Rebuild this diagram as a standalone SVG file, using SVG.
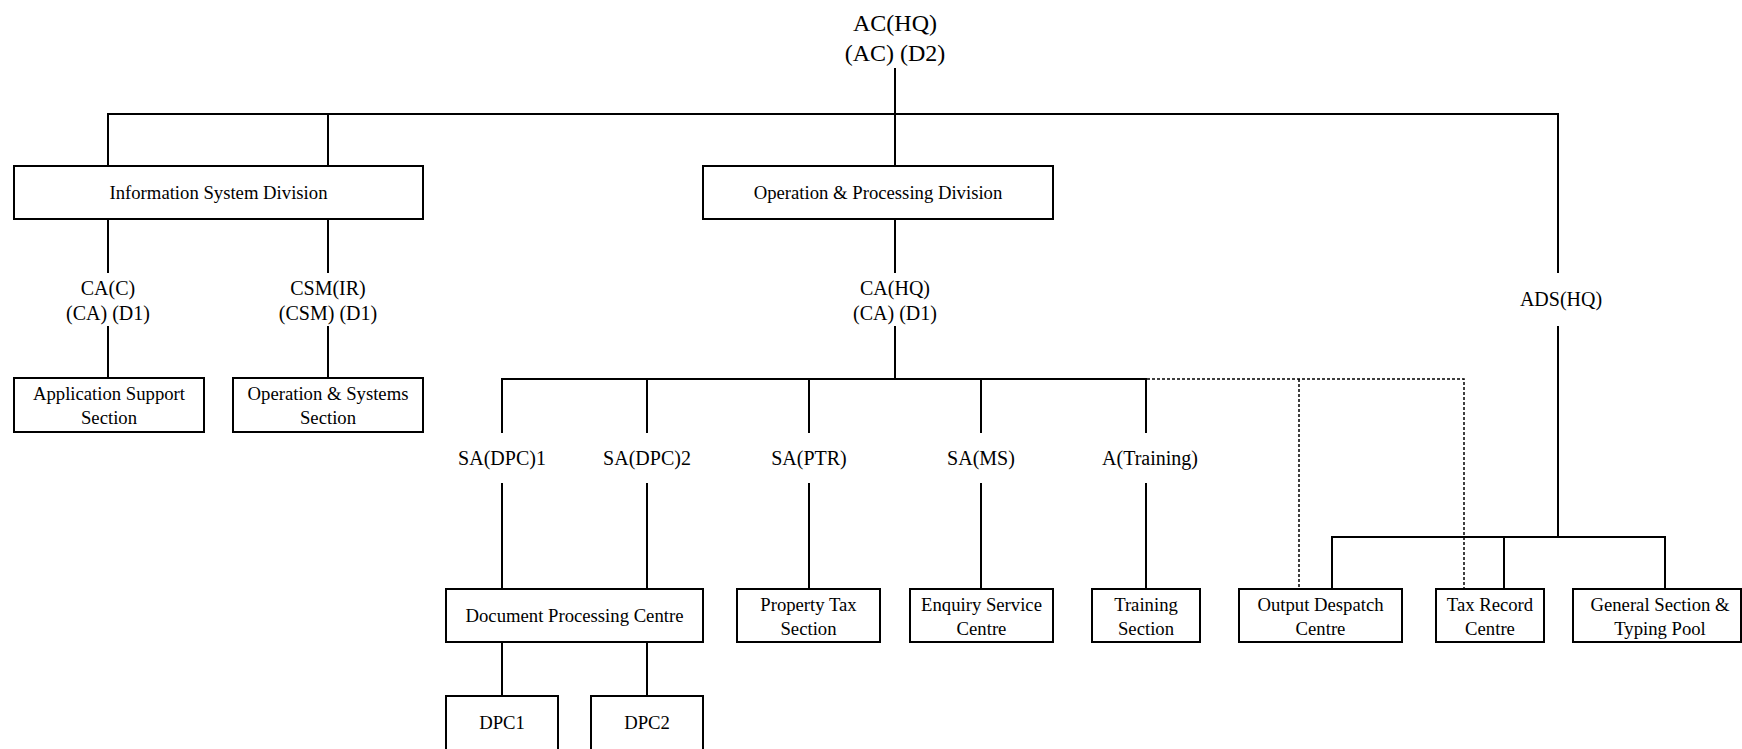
<svg xmlns="http://www.w3.org/2000/svg" width="1742" height="749" viewBox="0 0 1742 749">
<style>
  .box { fill: #fff; stroke: #000; stroke-width: 2; }
  .ln { stroke: #000; stroke-width: 2; fill: none; stroke-linecap: square; }
  .dot { stroke: #000; stroke-width: 1.5; fill: none; stroke-dasharray: 3 2; }
  text { font-family: "Liberation Serif", "Times New Roman", serif; fill: #000; text-anchor: middle; }
  .t { font-size: 24px; }
  .l { font-size: 20px; }
  .b { font-size: 18.7px; }
</style>
<rect width="1742" height="749" fill="#fff"/>
<g id="connectors">
  <!-- root -->
  <line class="ln" x1="895" y1="69" x2="895" y2="166"/>
  <line class="ln" x1="108" y1="114" x2="1558" y2="114"/>
  <line class="ln" x1="108" y1="114" x2="108" y2="166"/>
  <line class="ln" x1="328" y1="114" x2="328" y2="166"/>
  <line class="ln" x1="1558" y1="114" x2="1558" y2="272"/>
  <line class="ln" x1="1558" y1="327" x2="1558" y2="537"/>
  <!-- ISD -->
  <line class="ln" x1="108" y1="219" x2="108" y2="272"/>
  <line class="ln" x1="108" y1="327" x2="108" y2="378"/>
  <line class="ln" x1="328" y1="219" x2="328" y2="272"/>
  <line class="ln" x1="328" y1="327" x2="328" y2="378"/>
  <!-- OPD -->
  <line class="ln" x1="895" y1="219" x2="895" y2="272"/>
  <line class="ln" x1="895" y1="327" x2="895" y2="379"/>
  <line class="ln" x1="502" y1="379" x2="1146" y2="379"/>
  <line class="ln" x1="502" y1="379" x2="502" y2="432"/>
  <line class="ln" x1="647" y1="379" x2="647" y2="432"/>
  <line class="ln" x1="809" y1="379" x2="809" y2="432"/>
  <line class="ln" x1="981" y1="379" x2="981" y2="432"/>
  <line class="ln" x1="1146" y1="379" x2="1146" y2="432"/>
  <line class="ln" x1="502" y1="484" x2="502" y2="589"/>
  <line class="ln" x1="647" y1="484" x2="647" y2="589"/>
  <line class="ln" x1="809" y1="484" x2="809" y2="589"/>
  <line class="ln" x1="981" y1="484" x2="981" y2="589"/>
  <line class="ln" x1="1146" y1="484" x2="1146" y2="589"/>
  <line class="ln" x1="502" y1="642" x2="502" y2="696"/>
  <line class="ln" x1="647" y1="642" x2="647" y2="696"/>
  <!-- dotted -->
  <polyline class="dot" points="1147,379 1464,379 1464,589"/>
  <line class="dot" x1="1299" y1="379" x2="1299" y2="589"/>
  <!-- ADS -->
  <line class="ln" x1="1332" y1="537" x2="1665" y2="537"/>
  <line class="ln" x1="1332" y1="537" x2="1332" y2="589"/>
  <line class="ln" x1="1504" y1="537" x2="1504" y2="589"/>
  <line class="ln" x1="1665" y1="537" x2="1665" y2="589"/>
</g>
<g id="ac-hq"><text class="t" x="895" y="31">AC(HQ)</text><text class="t" x="895" y="61">(AC) (D2)</text></g>
<g id="isd"><rect class="box" x="14" y="166" width="409" height="53"/><text class="b" x="218.5" y="199">Information System Division</text></g>
<g id="opd"><rect class="box" x="703" y="166" width="350" height="53"/><text class="b" x="878" y="199">Operation &amp; Processing Division</text></g>
<g id="ca-c"><text class="l" x="108" y="295">CA(C)</text><text class="l" x="108" y="320">(CA) (D1)</text></g>
<g id="csm-ir"><text class="l" x="328" y="295">CSM(IR)</text><text class="l" x="328" y="320">(CSM) (D1)</text></g>
<g id="ca-hq"><text class="l" x="895" y="295">CA(HQ)</text><text class="l" x="895" y="320">(CA) (D1)</text></g>
<g id="ads-hq"><text class="l" x="1561" y="306">ADS(HQ)</text></g>
<g id="app-support"><rect class="box" x="14" y="378" width="190" height="54"/><text class="b" x="109" y="400">Application Support</text><text class="b" x="109" y="424">Section</text></g>
<g id="op-systems"><rect class="box" x="233" y="378" width="190" height="54"/><text class="b" x="328" y="400">Operation &amp; Systems</text><text class="b" x="328" y="424">Section</text></g>
<g id="sa-dpc1"><text class="l" x="502" y="465">SA(DPC)1</text></g>
<g id="sa-dpc2"><text class="l" x="647" y="465">SA(DPC)2</text></g>
<g id="sa-ptr"><text class="l" x="809" y="465">SA(PTR)</text></g>
<g id="sa-ms"><text class="l" x="981" y="465">SA(MS)</text></g>
<g id="a-training"><text class="l" x="1150" y="465">A(Training)</text></g>
<g id="dpc"><rect class="box" x="446" y="589" width="257" height="53"/><text class="b" x="574.5" y="622">Document Processing Centre</text></g>
<g id="property-tax"><rect class="box" x="737" y="589" width="143" height="53"/><text class="b" x="808.5" y="611">Property Tax</text><text class="b" x="808.5" y="635">Section</text></g>
<g id="enquiry"><rect class="box" x="910" y="589" width="143" height="53"/><text class="b" x="981.5" y="611">Enquiry Service</text><text class="b" x="981.5" y="635">Centre</text></g>
<g id="training-section"><rect class="box" x="1092" y="589" width="108" height="53"/><text class="b" x="1146" y="611">Training</text><text class="b" x="1146" y="635">Section</text></g>
<g id="output-despatch"><rect class="box" x="1239" y="589" width="163" height="53"/><text class="b" x="1320.5" y="611">Output Despatch</text><text class="b" x="1320.5" y="635">Centre</text></g>
<g id="tax-record"><rect class="box" x="1436" y="589" width="108" height="53"/><text class="b" x="1490" y="611">Tax Record</text><text class="b" x="1490" y="635">Centre</text></g>
<g id="general-section"><rect class="box" x="1573" y="589" width="168" height="53"/><text class="b" x="1660" y="611">General Section &amp;</text><text class="b" x="1660" y="635">Typing Pool</text></g>
<g id="dpc1"><rect class="box" x="446" y="696" width="112" height="70"/><text class="b" x="502" y="729">DPC1</text></g>
<g id="dpc2"><rect class="box" x="591" y="696" width="112" height="70"/><text class="b" x="647" y="729">DPC2</text></g>
</svg>
